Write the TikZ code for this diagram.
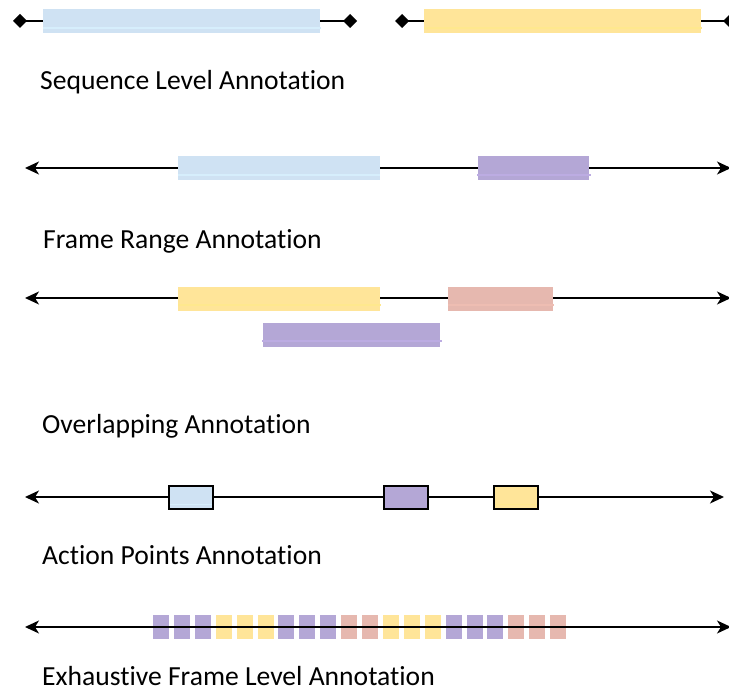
\documentclass[tikz,border=0pt]{standalone}
\usepackage{fontspec}
\setmainfont{Carlito}[Ligatures=NoCommon]
\usetikzlibrary{arrows.meta}
\definecolor{paleblue}{HTML}{CFE2F3}
\definecolor{paleyellow}{HTML}{FFE599}
\definecolor{palepurple}{HTML}{B4A7D6}
\definecolor{palepink}{HTML}{E6B8AF}
\definecolor{blueglint}{HTML}{D6EEFC}
\definecolor{yellowglint}{HTML}{FFE88E}
\definecolor{purpleglint}{HTML}{BCACE2}
\definecolor{pinkglint}{HTML}{EEBDB2}
\begin{document}
\begin{tikzpicture}[x=1pt,y=-1pt,
  axis/.style={line width=1.5pt, black},
  timeline/.style={axis,
    {Stealth[length=14pt,width=13pt,inset=4pt]}-{Stealth[length=14pt,width=13pt,inset=4pt]}},
  seqline/.style={axis,
    {Diamond[length=14pt,width=14pt]}-{Diamond[length=14pt,width=14pt]}},
  span/.style={draw=none, inner sep=0pt, outer sep=0pt, minimum height=24pt, anchor=north west},
  pointbox/.style={span, draw=black, line width=1.6pt, minimum width=44pt, minimum height=23pt},
  framebox/.style={span, minimum width=16pt},
  glint/.style={line width=1.6pt, #1},
  caption/.style={anchor=base west, inner sep=0pt, font=\fontsize{27.6}{32}\selectfont},
]
\useasboundingbox (0,0) rectangle (729,698);

% ---- sequence level ----
\coordinate (s1a) at (13,21);
\coordinate (s1b) at (357,21);
\coordinate (s2a) at (395,21);
\coordinate (s2b) at (737,21);
\draw[seqline] (s1a) -- (s1b);
\draw[seqline] (s2a) -- (s2b);
\node[span, fill=paleblue, minimum width=277pt] (seqA) at (43,9) {};
\draw[glint=blueglint] ([yshift=5pt]seqA.south west) -- ([yshift=5pt,xshift=1pt]seqA.south east);
\node[span, fill=paleyellow, minimum width=277pt] (seqB) at (424,9) {};
\draw[glint=yellowglint] ([yshift=5pt]seqB.south west) -- ([yshift=5pt,xshift=1pt]seqB.south east);
\node[caption] (capSeq) at (40,90) {Sequence Level Annotation};

% ---- frame range ----
\coordinate (r1a) at (25,168);
\coordinate (r1b) at (731,168);
\draw[timeline] (r1a) -- (r1b);
\node[span, fill=paleblue, minimum width=202pt] (rngA) at (178,156) {};
\draw[glint=blueglint] ([yshift=5pt]rngA.south west) -- ([yshift=5pt]rngA.south east);
\node[span, fill=palepurple, minimum width=111pt] (rngB) at (478,156) {};
\draw[glint=purpleglint] ([yshift=5pt,xshift=-1pt]rngB.south west) -- ([yshift=5pt,xshift=2pt]rngB.south east);
\node[caption] (capRange) at (43,248) {Frame Range Annotation};

% ---- overlapping ----
\coordinate (o1a) at (25,298);
\coordinate (o1b) at (731,298);
\draw[timeline] (o1a) -- (o1b);
\node[span, fill=paleyellow, minimum width=202pt] (ovA) at (178,287) {};
\draw[glint=yellowglint] ([yshift=6pt]ovA.south west) -- ([yshift=6pt,xshift=1pt]ovA.south east);
\node[span, fill=palepink, minimum width=105pt] (ovB) at (448,287) {};
\draw[glint=pinkglint] ([yshift=6pt]ovB.south west) -- ([yshift=6pt,xshift=1pt]ovB.south east);
\node[span, fill=palepurple, minimum width=177pt] (ovC) at (263,323) {};
\draw[glint=purpleglint] ([yshift=6pt,xshift=-1pt]ovC.south west) -- ([yshift=6pt,xshift=2pt]ovC.south east);
\node[caption] (capOver) at (42,433) {Overlapping Annotation};

% ---- action points ----
\coordinate (p1a) at (25,497);
\coordinate (p1b) at (724,497);
\draw[timeline] (p1a) -- (p1b);
\node[pointbox, fill=paleblue] (ptA) at (168.8,485.8) {};
\draw[glint=blueglint] ([yshift=4.5pt,xshift=1pt]ptA.south west) -- ([yshift=4.5pt,xshift=-1pt]ptA.south east);
\node[pointbox, fill=palepurple] (ptB) at (383.8,485.8) {};
\node[pointbox, fill=paleyellow] (ptC) at (493.8,485.8) {};
\draw[glint=yellowglint] ([yshift=4.5pt,xshift=1pt]ptC.south west) -- ([yshift=4.5pt,xshift=-1pt]ptC.south east);
\node[caption] (capPoint) at (42,564) {Action Points Annotation};

% ---- exhaustive frame level ----
\foreach \c [count=\i from 0] in {palepurple,palepurple,palepurple,
    paleyellow,paleyellow,paleyellow,palepurple,palepurple,palepurple,
    palepink,palepink,paleyellow,paleyellow,paleyellow,
    palepurple,palepurple,palepurple,palepink,palepink,palepink}
  \node[framebox, fill=\c] (fr\i) at ({153+20.9*\i},615) {};
\coordinate (e1a) at (25,627);
\coordinate (e1b) at (731,627);
\draw[timeline] (e1a) -- (e1b);
\node[caption] (capFrame) at (42,685) {Exhaustive Frame Level Annotation};
\end{tikzpicture}
\end{document}
